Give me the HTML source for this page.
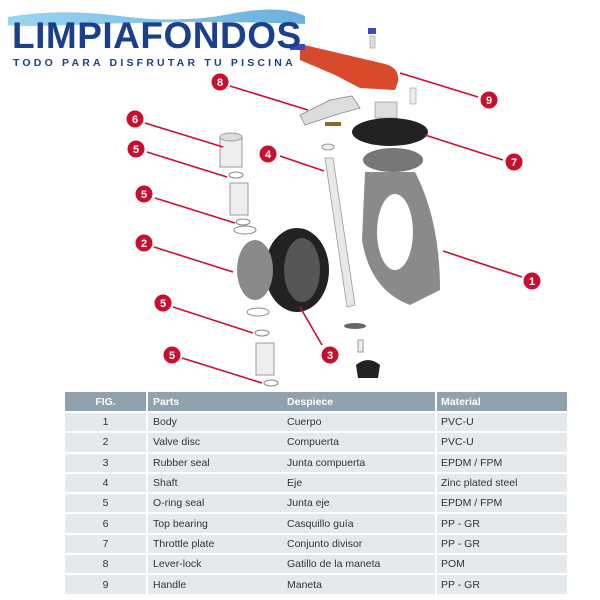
<!DOCTYPE html>
<html><head><meta charset="utf-8"><style>
html,body{margin:0;padding:0;background:#fff;}
body{width:600px;height:600px;position:relative;overflow:hidden;font-family:"Liberation Sans",sans-serif;}
.logo{position:absolute;left:12px;top:17px;font-weight:bold;font-size:37px;color:#1a3f8c;letter-spacing:0.5px;line-height:1;}
.tag{position:absolute;left:13px;top:57px;font-weight:bold;font-size:10.5px;color:#1a3f8c;letter-spacing:3.2px;}
table{position:absolute;left:65px;top:392px;width:502px;table-layout:fixed;border-collapse:separate;border-spacing:0;font-size:10.5px;color:#333;}
td,th{height:18.3px;padding:0;border-bottom:2px solid #fff;box-sizing:border-box;}
th{background:#8fa2ad;color:#fff;text-align:left;font-weight:bold;height:21px;}
td{background:#e6e9eb;height:20.3px;}
.c1{text-align:center;border-right:2px solid #fff;}
.c2{padding-left:5px;}
.c3{}
.c4{padding-left:4px;border-left:2px solid #fff;}
</style></head><body>
<svg width="600" height="390" style="position:absolute;left:0;top:0">
<defs><linearGradient id="w" x1="0" x2="1"><stop offset="0" stop-color="#6fc3ea"/><stop offset="1" stop-color="#2b8fd0"/></linearGradient></defs>
<path d="M8 17 Q60 8 120 16 T230 14 T305 16 L305 24 Q200 20 100 24 T8 24Z" fill="url(#w)" opacity="0.7"/>
<path d="M300 44 L385 64 Q400 68 398 82 L395 90 L360 88 L335 75 L300 60Z" fill="#d9492b"/>
<rect x="290" y="44" width="15" height="6" fill="#3a49c0"/>
<rect x="368" y="28" width="8" height="6" fill="#3a49c0"/>
<rect x="370" y="36" width="5" height="12" fill="#ddd" stroke="#999" stroke-width="0.6"/>
<path d="M300 115 L330 100 L352 96 L360 108 L335 115 L305 125Z" fill="#ddd" stroke="#888" stroke-width="0.8"/>
<rect x="375" y="102" width="22" height="16" fill="#ddd" stroke="#888" stroke-width="0.6"/>
<rect x="410" y="88" width="6" height="16" fill="#eee" stroke="#999" stroke-width="0.6"/>
<rect x="325" y="122" width="16" height="4" fill="#8a6a2a"/>
<ellipse cx="390" cy="132" rx="38" ry="14" fill="#222"/>
<ellipse cx="393" cy="160" rx="30" ry="12" fill="#777"/>
<path d="M365 172 L415 172 Q440 220 440 290 L410 305 Q370 290 362 240Z" fill="#8a8a8a"/>
<ellipse cx="395" cy="232" rx="18" ry="38" fill="#fff"/>
<path d="M325 158 L333 158 L355 305 L347 307Z" fill="#e8e8e8" stroke="#999" stroke-width="0.8"/>
<ellipse cx="328" cy="147" rx="6" ry="3" fill="#eee" stroke="#999"/>
<ellipse cx="297" cy="270" rx="32" ry="42" fill="#222"/>
<ellipse cx="302" cy="270" rx="18" ry="32" fill="#555"/>
<ellipse cx="255" cy="270" rx="18" ry="30" fill="#8a8a8a"/>
<rect x="220" y="137" width="22" height="30" fill="#eee" stroke="#999"/>
<ellipse cx="231" cy="137" rx="11" ry="4" fill="#ddd" stroke="#999"/>
<ellipse cx="236" cy="175" rx="7" ry="3" fill="#fff" stroke="#888"/>
<rect x="230" y="183" width="18" height="32" fill="#eee" stroke="#999"/>
<ellipse cx="243" cy="222" rx="7" ry="3" fill="#fff" stroke="#888"/>
<ellipse cx="245" cy="230" rx="11" ry="4" fill="#fff" stroke="#888"/>
<ellipse cx="258" cy="312" rx="11" ry="4" fill="#fff" stroke="#888"/>
<ellipse cx="262" cy="333" rx="7" ry="3" fill="#fff" stroke="#888"/>
<rect x="256" y="343" width="18" height="32" fill="#eee" stroke="#999"/>
<ellipse cx="271" cy="383" rx="7" ry="3" fill="#fff" stroke="#888"/>
<ellipse cx="355" cy="326" rx="11" ry="3" fill="#666"/>
<rect x="358" y="340" width="5" height="12" fill="#eee" stroke="#999"/>
<path d="M356 365 Q368 355 380 365 L378 378 L358 378Z" fill="#222"/>
<g stroke="#c8102e" stroke-width="1.6">
<line x1="230" y1="86" x2="308" y2="110"/><line x1="478" y1="97" x2="400" y2="73"/>
<line x1="145" y1="123" x2="223" y2="147"/><line x1="147" y1="152" x2="227" y2="177"/>
<line x1="280" y1="156" x2="324" y2="171"/><line x1="503" y1="160" x2="425" y2="135"/>
<line x1="155" y1="198" x2="235" y2="223"/><line x1="154" y1="247" x2="233" y2="272"/>
<line x1="522" y1="277" x2="443" y2="251"/><line x1="173" y1="307" x2="253" y2="333"/>
<line x1="322" y1="345" x2="300" y2="307"/><line x1="182" y1="358" x2="262" y2="383"/>
</g>
<g fill="#c8102e">
<circle cx="220" cy="82" r="8.5"/><circle cx="489" cy="100" r="8.5"/><circle cx="135" cy="119" r="8.5"/>
<circle cx="136" cy="149" r="8.5"/><circle cx="268" cy="154" r="8.5"/><circle cx="514" cy="162" r="8.5"/>
<circle cx="144" cy="194" r="8.5"/><circle cx="144" cy="243" r="8.5"/><circle cx="532" cy="281" r="8.5"/>
<circle cx="163" cy="303" r="8.5"/><circle cx="330" cy="355" r="8.5"/><circle cx="172" cy="355" r="8.5"/>
</g>
<g fill="#fff" font-size="11" font-weight="bold" text-anchor="middle" font-family="Liberation Sans,sans-serif">
<text x="220" y="86">8</text><text x="489" y="104">9</text><text x="135" y="123">6</text>
<text x="136" y="153">5</text><text x="268" y="158">4</text><text x="514" y="166">7</text>
<text x="144" y="198">5</text><text x="144" y="247">2</text><text x="532" y="285">1</text>
<text x="163" y="307">5</text><text x="330" y="359">3</text><text x="172" y="359">5</text>
</g>
</svg>
<div class="logo">LIMPIAFONDOS</div>
<div class="tag">TODO PARA DISFRUTAR TU PISCINA</div>
<table>
<colgroup><col style="width:83px"><col style="width:139px"><col style="width:148px"><col style="width:132px"></colgroup>
<tr><th class="c1" style="text-align:center">FIG.</th><th class="c2">Parts</th><th class="c3">Despiece</th><th class="c4">Material</th></tr>
<tr><td class="c1">1</td><td class="c2">Body</td><td class="c3">Cuerpo</td><td class="c4">PVC-U</td></tr>
<tr><td class="c1">2</td><td class="c2">Valve disc</td><td class="c3">Compuerta</td><td class="c4">PVC-U</td></tr>
<tr><td class="c1">3</td><td class="c2">Rubber seal</td><td class="c3">Junta compuerta</td><td class="c4">EPDM / FPM</td></tr>
<tr><td class="c1">4</td><td class="c2">Shaft</td><td class="c3">Eje</td><td class="c4">Zinc plated steel</td></tr>
<tr><td class="c1">5</td><td class="c2">O-ring seal</td><td class="c3">Junta eje</td><td class="c4">EPDM / FPM</td></tr>
<tr><td class="c1">6</td><td class="c2">Top bearing</td><td class="c3">Casquillo guía</td><td class="c4">PP - GR</td></tr>
<tr><td class="c1">7</td><td class="c2">Throttle plate</td><td class="c3">Conjunto divisor</td><td class="c4">PP - GR</td></tr>
<tr><td class="c1">8</td><td class="c2">Lever-lock</td><td class="c3">Gatillo de la maneta</td><td class="c4">POM</td></tr>
<tr><td class="c1">9</td><td class="c2">Handle</td><td class="c3">Maneta</td><td class="c4">PP - GR</td></tr>
</table>
</body></html>
